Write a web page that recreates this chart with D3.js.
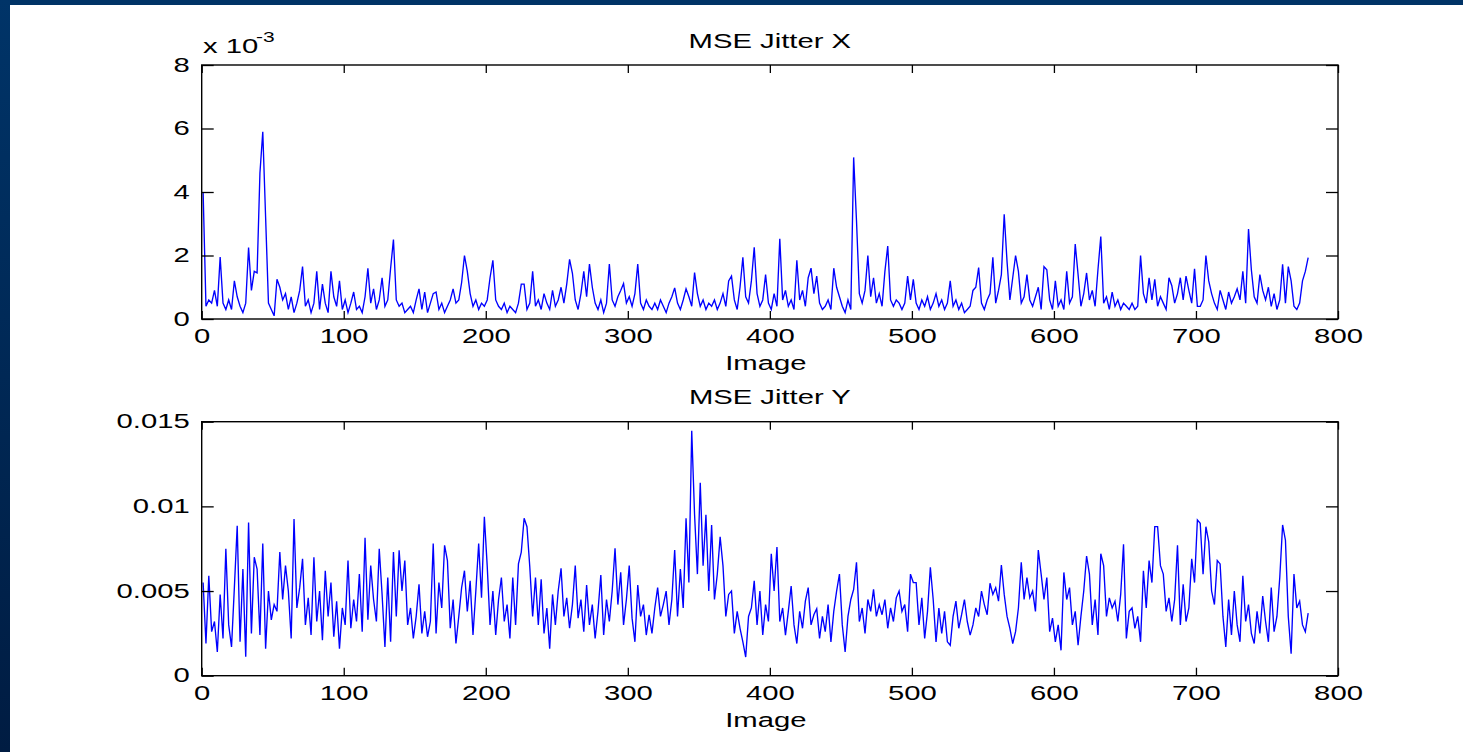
<!DOCTYPE html>
<html><head><meta charset="utf-8">
<script src="https://cdn.jsdelivr.net/npm/d3@7"></script>
<style>html,body{margin:0;padding:0;background:#fff;overflow:hidden}</style>
</head><body><svg id="c" width="1463" height="752"></svg>
<script>
// Image index of the samples (every other image, 1..779)
const imageStart = 1, imageStep = 2;
// MSE Jitter X, in units of 1e-3
const jitterX = [
4.0,0.4,0.6,0.5,0.9,0.4,1.95,0.5,0.3,0.6,
0.3,1.2,0.7,0.4,0.2,0.5,2.25,0.9,1.5,1.45,
4.6,5.9,3.2,0.5,0.3,0.1,1.25,1.0,0.6,0.8,
0.3,0.7,0.2,0.5,0.9,1.65,0.4,0.6,0.2,0.5,
1.5,0.3,1.1,0.5,0.2,1.5,0.7,0.4,1.2,0.3,
0.6,0.2,0.5,0.85,0.3,0.4,0.2,0.7,1.6,0.5,
0.95,0.3,0.6,1.3,0.4,0.6,1.6,2.5,0.6,0.4,
0.5,0.2,0.3,0.4,0.2,0.6,0.95,0.3,0.85,0.2,
0.5,0.8,0.85,0.3,0.5,0.2,0.4,0.6,0.95,0.5,
0.6,1.15,2.0,1.5,0.8,0.4,0.6,0.3,0.5,0.4,
0.6,1.3,1.85,0.6,0.4,0.3,0.5,0.2,0.4,0.3,
0.2,0.5,1.1,1.1,0.3,0.5,1.5,0.4,0.6,0.3,
0.8,0.5,0.3,0.9,0.4,0.6,1.0,0.5,1.1,1.88,
1.44,0.6,0.3,0.8,1.5,0.7,1.73,1.0,0.5,0.3,
0.6,0.2,0.5,1.73,0.6,0.4,0.7,0.9,1.12,0.5,
0.7,0.4,0.8,1.73,0.5,0.3,0.6,0.4,0.3,0.5,
0.3,0.6,0.4,0.2,0.5,0.7,0.98,0.5,0.3,0.6,
0.95,0.7,0.4,1.46,0.8,0.4,0.6,0.3,0.5,0.4,
0.6,0.3,0.5,0.8,0.4,1.2,1.35,0.6,0.3,1.0,
1.94,0.7,0.5,1.2,2.26,0.8,0.4,0.6,1.4,0.5,
0.3,0.8,0.4,2.53,0.6,0.9,0.4,0.6,0.3,1.85,
0.6,0.9,0.4,1.3,1.6,0.8,1.35,0.5,0.3,0.4,
0.6,0.3,1.6,1.0,0.7,0.4,0.2,0.6,0.3,5.09,
3.1,0.8,0.5,0.9,2.0,0.7,1.3,0.5,0.8,0.4,
1.5,2.3,0.6,0.4,0.6,0.5,0.3,0.5,1.35,0.6,
1.25,0.5,0.3,0.6,0.4,0.7,0.3,0.5,0.8,0.4,
0.6,0.3,0.5,1.2,0.4,0.6,0.3,0.5,0.2,0.3,
0.4,0.9,1.0,1.62,0.5,0.3,0.6,0.8,1.94,0.5,
0.9,1.4,3.3,1.8,0.6,1.3,2.0,1.5,0.5,0.7,
1.4,0.6,0.4,0.7,1.0,0.3,1.65,1.55,0.6,0.3,
1.2,0.4,0.6,0.3,1.5,0.5,0.7,2.36,1.4,0.4,
0.8,1.45,0.6,0.9,0.4,1.55,2.6,0.5,0.7,0.3,
0.85,0.4,0.6,0.3,0.5,0.4,0.3,0.5,0.3,0.4,
2.0,0.8,0.5,1.3,0.6,1.25,0.4,0.7,0.5,0.3,
1.3,1.05,0.5,0.8,1.3,0.6,1.35,0.9,0.5,1.58,
0.4,0.4,0.6,2.0,1.2,0.8,0.5,0.3,0.9,0.6,
0.3,0.85,0.5,0.7,0.95,0.6,1.5,0.5,2.83,1.55,
0.7,0.5,1.4,0.9,0.6,1.0,0.4,0.8,0.3,0.6,
1.72,0.5,1.65,1.2,0.4,0.3,0.5,1.2,1.5,1.93
];
// MSE Jitter Y, in units of 1e-3
const jitterY = [
5.5,1.9,5.9,2.6,3.2,1.4,4.8,2.2,7.5,3.0,
1.7,5.2,8.86,2.0,6.3,1.12,9.04,2.5,7.0,6.3,
2.4,7.8,1.6,5.0,3.3,4.2,3.8,7.3,4.5,6.5,
5.0,2.2,9.26,4.0,5.2,6.9,3.0,4.6,2.4,7.0,
3.2,5.0,2.1,6.2,3.5,5.5,2.3,4.4,1.6,4.0,
3.0,6.8,2.8,4.5,3.2,6.0,2.6,8.15,3.3,6.5,
4.5,3.2,7.5,4.8,1.7,5.8,2.0,7.3,3.5,7.4,
5.0,6.8,3.0,4.0,2.2,3.5,5.4,2.5,3.8,2.3,
3.2,7.8,2.5,5.5,4.0,7.7,6.8,2.8,4.5,1.9,
3.5,5.2,6.2,3.8,5.6,2.4,5.0,7.8,4.6,9.39,
6.5,3.0,5.0,2.4,4.5,5.8,3.2,4.2,2.2,5.8,
3.0,6.6,7.3,9.3,8.8,6.4,3.5,5.8,3.0,5.7,
2.5,4.0,1.6,4.8,3.0,5.0,6.34,3.5,4.6,2.8,
4.2,6.5,3.4,4.5,2.6,5.36,3.0,4.2,2.2,3.8,
5.95,2.4,4.5,3.2,5.0,7.52,4.2,6.1,3.0,4.5,
6.5,3.4,2.0,5.36,3.5,4.2,2.4,3.6,2.5,4.0,
5.2,3.5,4.2,5.0,3.0,4.5,7.42,3.5,6.3,4.0,
9.3,5.5,14.47,9.5,6.0,11.4,6.5,9.5,5.0,8.9,
4.5,6.0,8.2,6.5,3.5,4.8,5.0,2.5,3.8,2.8,
2.0,1.1,3.5,4.0,5.6,3.0,5.0,2.4,4.2,3.2,
7.2,5.0,7.6,3.2,4.0,2.4,3.8,5.3,3.0,1.9,
3.8,2.8,4.4,5.2,3.0,3.6,3.95,2.2,3.5,2.6,
4.2,2.0,3.8,5.0,6.0,3.0,1.4,3.5,4.5,5.1,
6.7,3.2,4.0,2.5,4.5,3.8,5.1,3.5,4.2,3.6,
4.5,2.8,4.0,3.2,4.6,5.0,3.8,4.2,2.6,6.0,
5.5,5.5,3.0,4.6,2.2,3.8,6.4,4.5,2.0,4.0,
2.5,3.8,2.0,1.8,3.5,4.4,2.8,3.6,4.5,3.2,
2.4,3.0,4.0,3.5,5.0,4.2,3.6,5.46,4.8,5.2,
4.4,6.54,4.8,3.5,2.8,1.9,2.6,4.0,6.7,4.5,
5.8,4.6,5.0,3.8,7.42,6.0,4.5,5.8,2.6,3.4,
2.0,3.0,1.5,6.1,4.5,5.2,3.0,3.8,1.8,3.5,
5.0,7.07,6.0,3.0,4.5,2.4,7.2,6.5,3.5,4.6,
4.0,4.4,3.2,4.8,7.76,2.2,3.8,4.0,2.8,3.5,
2.0,6.2,4.0,6.8,5.5,8.8,8.8,6.5,6.0,3.8,
4.6,3.2,4.5,7.7,3.0,5.4,3.2,4.0,6.9,5.5,
9.2,9.0,6.0,8.8,7.9,5.0,4.2,6.8,6.6,3.5,
1.7,4.5,2.4,5.0,3.0,2.0,5.9,3.2,4.2,2.5,
1.9,3.8,2.5,4.7,3.2,2.0,5.2,2.6,3.5,5.8,
8.9,8.0,3.5,1.3,6.0,4.0,4.4,3.0,2.6,3.7
];
const xTicks = [0,100,200,300,400,500,600,700,800];
const yTicksTop = [0,2,4,6,8];
const yTicksBottom = [0,0.005,0.01,0.015];
const yTickLabelsBottom = ["0","0.005","0.01","0.015"];
const titles = ["MSE Jitter X","MSE Jitter Y"];
const xLabel = "Image";

const svg = d3.select("#c");
const W = 1463, H = 752;
const SX = 1.5;           // horizontal stretch of the text glyphs
const FONT = "Liberation Sans, Arial, Helvetica, sans-serif";
const FS = 19.5;

// background frame
const defs = svg.append("defs");
const g1 = defs.append("linearGradient").attr("id","lg").attr("x1",0).attr("y1",0).attr("x2",0).attr("y2",1);
g1.append("stop").attr("offset","0%").attr("stop-color","#003468");
g1.append("stop").attr("offset","100%").attr("stop-color","#001c42");
svg.append("rect").attr("width",W).attr("height",H).attr("fill","#fff");
svg.append("rect").attr("x",0).attr("y",0).attr("width",W).attr("height",5).attr("fill","#003366");
svg.append("rect").attr("x",0).attr("y",0).attr("width",10).attr("height",H).attr("fill","url(#lg)");

const L = 201.7, R = 1338;
const x = d3.scaleLinear().domain([0,800]).range([L,R]);

function panel(top, bottom, yDomain, yTicks, yFmt, values, mult, title) {
  const y = d3.scaleLinear().domain(yDomain).range([bottom, top]);
  const g = svg.append("g");
  const pts = values.map((v,i)=>[imageStart + i*imageStep, v*mult]);
  g.append("path").datum(pts)
    .attr("fill","none").attr("stroke","#0000ff").attr("stroke-width",1.35)
    .attr("stroke-linejoin","miter")
    .attr("d", d3.line().x(d=>x(d[0])).y(d=>y(d[1])));

  const ax = (sel)=>sel.attr("font-family",FONT).attr("font-size",FS).call(s=>s.select(".domain").remove());
  // bottom axis
  const gb = g.append("g").attr("transform",`translate(0,${bottom})`)
    .call(d3.axisBottom(x).tickValues(xTicks).tickSizeInner(-8).tickSizeOuter(0).tickPadding(10.5).tickFormat(d3.format("d")));
  ax(gb);
  gb.selectAll("text").attr("transform",`scale(${SX},1)`).attr("fill","#000");
  // top axis (mirror ticks)
  const gt = g.append("g").attr("transform",`translate(0,${top})`)
    .call(d3.axisTop(x).tickValues(xTicks).tickSizeInner(-8).tickSizeOuter(0).tickFormat(""));
  ax(gt);
  // left axis
  const gl = g.append("g").attr("transform",`translate(${L},0)`)
    .call(d3.axisLeft(y).tickValues(yTicks).tickSizeInner(-12).tickSizeOuter(0).tickPadding(12).tickFormat(yFmt));
  ax(gl);
  gl.selectAll("text").attr("x",-12/SX).attr("transform",`scale(${SX},1)`).attr("fill","#000");
  // right axis
  const gr = g.append("g").attr("transform",`translate(${R},0)`)
    .call(d3.axisRight(y).tickValues(yTicks).tickSizeInner(-12).tickSizeOuter(0).tickFormat(""));
  ax(gr);
  g.selectAll(".tick line").attr("stroke","#000").attr("stroke-width",1.3);
  // box
  g.append("rect").attr("x",L).attr("y",top).attr("width",R-L).attr("height",bottom-top)
    .attr("fill","none").attr("stroke","#000").attr("stroke-width",1.4);
  // title
  g.append("text").attr("transform",`translate(${(L+R)/2},${top-17.5}) scale(${SX},1)`)
    .attr("text-anchor","middle").attr("font-family",FONT).attr("font-size",FS).text(title);
  // x label
  g.append("text").attr("transform",`translate(${(L+R)/2-4},${bottom+51}) scale(${SX},1)`)
    .attr("text-anchor","middle").attr("font-family",FONT).attr("font-size",FS).text(xLabel);
  return y;
}

panel(65, 319, [0,8], yTicksTop, d3.format("d"), jitterX, 1, titles[0]);
panel(421.7, 675.7, [0,0.015], yTicksBottom, (d,i)=>yTickLabelsBottom[yTicksBottom.indexOf(d)], jitterY, 1e-3, titles[1]);

// exponent label for top panel
svg.append("text").attr("transform",`translate(203,53.3) scale(${SX},1)`)
  .attr("font-family",FONT).attr("font-size",FS).text("x 10");
svg.append("text").attr("transform",`translate(256,41.7) scale(${SX},1)`)
  .attr("font-family",FONT).attr("font-size",14).text("-3");
</script>
</body></html>
